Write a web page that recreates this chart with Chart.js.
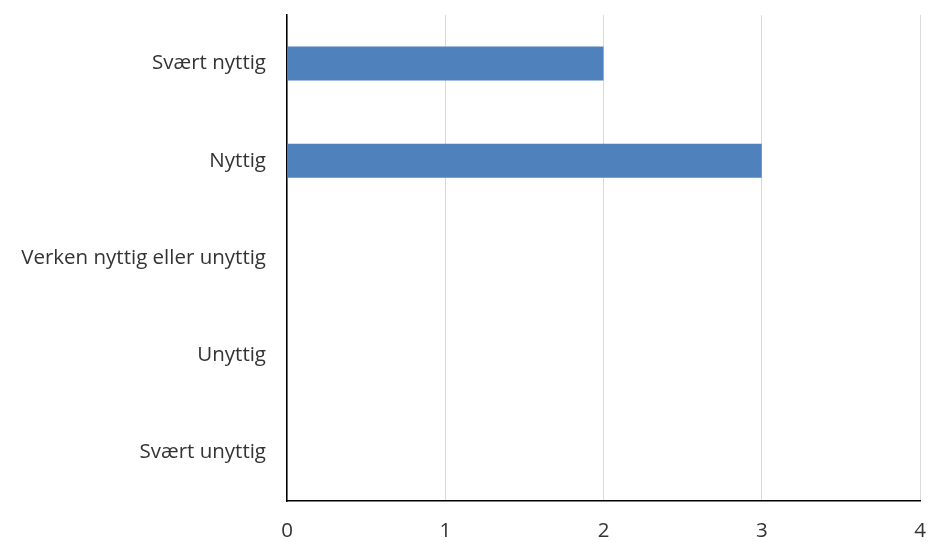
<!DOCTYPE html>
<html>
<head>
<meta charset="utf-8">
<script src="https://cdn.jsdelivr.net/npm/chart.js@4/dist/chart.umd.min.js"></script>
<style>
  html, body { margin: 0; padding: 0; background: #fff; }
  #wrap { width: 928px; height: 542px; }
</style>
</head>
<body>
<div id="wrap"><canvas id="chart" width="928" height="542"></canvas></div>
<script>
// Answers and counts
const categories = ['Svært nyttig', 'Nyttig', 'Verken nyttig eller unyttig', 'Unyttig', 'Svært unyttig'];
const counts = [2, 3, 0, 0, 0];
const xTicks = [0, 1, 2, 3, 4];

const labelFont = { family: 'Open Sans', size: 20.5 };

// drop the extra edge padding Chart.js reserves for tick labels
const noEdgePadding = s => {
    s.paddingTop = 0;
    s.paddingBottom = 0;
    s.paddingLeft = 0;
    s.paddingRight = 0;
};

const ctx = document.getElementById('chart').getContext('2d');
const chart = new Chart(ctx, {
    type: 'bar',
    data: {
        labels: categories,
        datasets: [{
            data: counts,
            backgroundColor: '#4F81BD',
            borderWidth: 0,
            categoryPercentage: 1,
            barPercentage: 0.35
        }]
    },
    options: {
        indexAxis: 'y',
        responsive: false,
        animation: false,
        layout: { padding: { top: 15, right: 8, left: 0, bottom: 0 } },
        plugins: {
            legend: { display: false },
            tooltip: { enabled: false }
        },
        scales: {
            x: {
                min: xTicks[0],
                max: xTicks[xTicks.length - 1],
                afterBuildTicks: s => { s.ticks = xTicks.map(v => ({ value: v })); },
                afterFit: s => { s.height = 41; noEdgePadding(s); },
                grid: { color: '#D9D9D9', lineWidth: 1, drawTicks: false },
                border: { display: true, color: '#000', width: 1.5 },
                ticks: { color: '#333', padding: 18, font: labelFont }
            },
            y: {
                afterFit: s => { s.width = 287; noEdgePadding(s); },
                grid: { color: 'rgba(0,0,0,0)', drawTicks: false },
                border: { display: true, color: '#000', width: 1.5 },
                ticks: { color: '#333', padding: 21, font: labelFont }
            }
        }
    }
});
</script>
</body>
</html>
